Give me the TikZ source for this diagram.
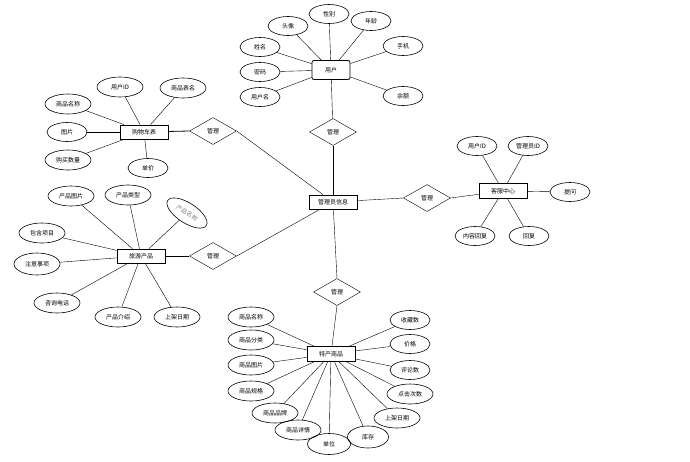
\documentclass[tikz,border=0pt]{standalone}
\usepackage{fontspec}
\setmainfont{Noto Sans CJK SC}
\usetikzlibrary{shapes.geometric}

\begin{document}
\begin{tikzpicture}
      [x=1pt, y=-1pt,
       every node/.style={font=\fontsize{6}{7}\selectfont, inner sep=1pt},
       ent/.style={draw, line width=0.8pt, minimum width=48pt, minimum height=14pt},
       rel/.style={draw, diamond, minimum width=47pt, minimum height=27pt, inner sep=0pt},
       attr/.style={draw, ellipse, line width=0.6pt, minimum width=40pt, minimum height=19pt},
       wide/.style={attr, minimum width=46pt, minimum height=20pt}]
      \useasboundingbox (0, 0) rectangle (690, 461);
      % entities
      \node[ent, rounded corners=2pt, minimum width=38pt, minimum height=19pt](user) at (331, 70) {用户};
      \node[ent](admin) at (333, 202) {管理员信息};
      \node[ent](cart) at (144, 132) {购物车表};
      \node[ent](tour) at (141, 256) {旅游产品};
      \node[ent, minimum height=15pt](service) at (503, 191) {客服中心};
      \node[ent, minimum height=15pt](goods) at (331, 354) {特产商品};
      % relations
      \node[rel](r1) at (333, 132) {管理};
      \node[rel](r2) at (213, 131) {管理};
      \node[rel](r3) at (213, 256) {管理};
      \node[rel](r4) at (427, 198) {管理};
      \node[rel](r5) at (337, 292) {管理};
      % user
      \node[attr](u1) at (288, 26) {头像};
      \node[attr](u2) at (329, 14) {性别};
      \node[attr](u3) at (371, 21) {年龄};
      \node[attr](u4) at (260, 47) {姓名};
      \node[attr](u5) at (260, 72) {密码};
      \node[attr](u6) at (260, 97) {用户名};
      \node[attr](u7) at (403, 46) {手机};
      \node[attr](u8) at (403, 96) {余额};
      % cart
      \node[wide](c1) at (120, 87) {用户ID};
      \node[wide](c2) at (183, 88) {商品表名};
      \node[wide](c3) at (68, 104) {商品名称};
      \node[attr](c4) at (67, 132) {图片};
      \node[wide](c5) at (68, 160) {购买数量};
      \node[attr](c6) at (148, 168) {单价};
      % tour
      \node[wide](t1) at (71, 196) {产品图片};
      \node[wide](t2) at (128, 195) {产品类型};
      \node[wide, rotate=-33, text=gray](t3) at (187, 213) {产品名称};
      \node[wide](t4) at (42, 233) {包含项目};
      \node[wide, minimum height=22pt](t5) at (37, 264) {注意事项};
      \node[wide](t6) at (57, 303) {咨询电话};
      \node[wide](t7) at (118, 317) {产品介绍};
      \node[wide](t8) at (177, 317) {上架日期};
      % service
      \node[attr](s1) at (477, 146) {用户ID};
      \node[attr](s2) at (528, 146) {管理员ID};
      \node[attr](s3) at (570, 192) {提问};
      \node[attr](s4) at (475, 236) {内容回复};
      \node[attr](s5) at (529, 236) {回复};
      % goods
      \node[wide](g1) at (251, 317) {商品名称};
      \node[wide](g2) at (251, 340) {商品分类};
      \node[wide](g3) at (251, 365) {商品图片};
      \node[wide](g4) at (251, 391) {商品规格};
      \node[wide](g5) at (275, 413) {商品品牌};
      \node[wide](g6) at (298, 430) {商品详情};
      \node[attr, minimum width=43pt, minimum height=21pt](g7) at (329, 444) {单位};
      \node[attr, minimum width=41pt, minimum height=22pt](g8) at (368, 437) {库存};
      \node[wide](g9) at (397, 418) {上架日期};
      \node[wide](g10) at (410, 394) {点击次数};
      \node[attr](g11) at (410, 370) {评论数};
      \node[attr](g12) at (410, 344) {价格};
      \node[attr](g13) at (410, 320) {收藏数};
      % connectors
      \draw(user) -- (r1);
      \draw(r1) -- (admin);
      \draw(r2.east) -- (admin);
      \draw(r3.east) -- (admin);
      \draw(admin) -- (r4.west);
      \draw(admin) -- (r5.north);
      \draw[line width=0.8pt](cart) -- (r2.west);
      \draw[line width=0.8pt](tour) -- (r3.west);
      \draw(r4.east) -- (service);
      \draw(r5.south) -- (goods);
      \foreach \a in {u1, u2, u3, u4, u5, u6, u7, u8} \draw(\a) -- (user);
      \foreach \a in {c1, c2, c3, c4, c5, c6} \draw(\a) -- (cart);
      \foreach \a in {t1, t2, t3, t4, t5, t6, t7, t8} \draw(\a) -- (tour);
      \foreach \a in {s1, s2, s3, s4, s5} \draw(\a) -- (service);
      \foreach \a in {g1, g2, g3, g4, g5, g6, g7, g8, g9, g10, g11, g12, g13} \draw(\a) -- (goods);
  \end{tikzpicture}
\end{document}
